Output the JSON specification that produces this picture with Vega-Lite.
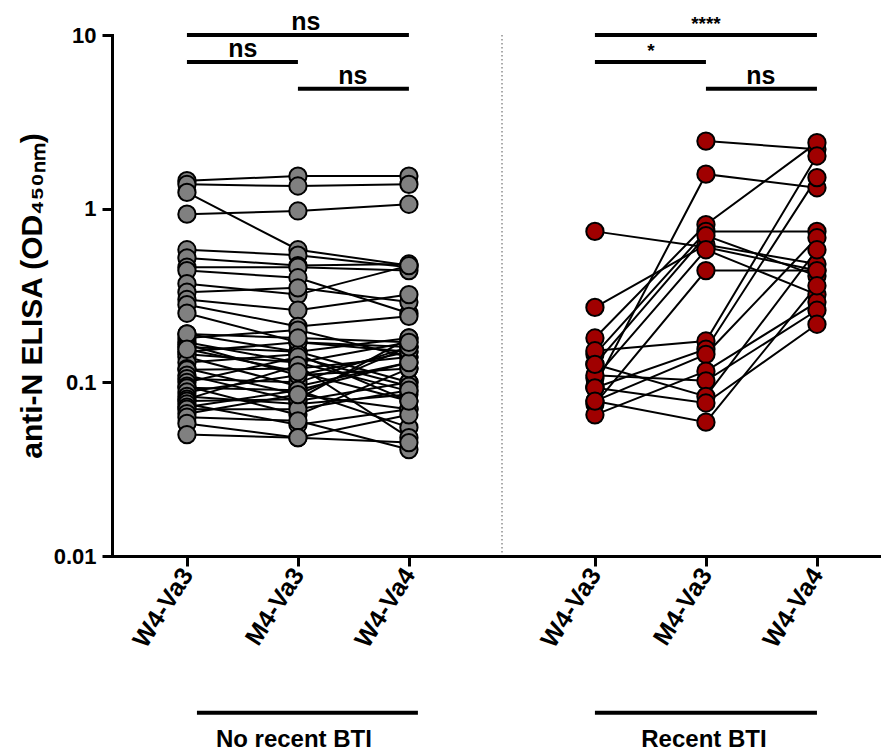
{
  "$schema": "https://vega.github.io/schema/vega-lite/v6.json",
  "autosize": {"type": "pad"},
  "padding": {"left": 17, "top": 10, "right": 0, "bottom": 0},
  "background": "white",
  "bounds": "flush",
  "spacing": 0,
  "config": {
    "view": {"stroke": null},
    "font": "Liberation Sans",
    "axis": {"domainColor": "black", "domainWidth": 3, "domainCap": "square", "tickColor": "black", "tickWidth": 3, "tickSize": 10, "labelColor": "black", "labelFont": "Liberation Sans", "labelFontWeight": "bold", "grid": false, "titleColor": "black", "titleFont": "Liberation Sans", "titleFontWeight": "bold"},
    "axisX": {"labelAngle": -57, "labelAlign": "right", "labelBaseline": "middle", "labelFontSize": 25, "labelPadding": 4},
    "axisY": {"labelFontSize": 22, "labelPadding": 6}
  },
  "datasets": {
    "norecent": [
      {"subject":"N1","time":"W4-Va3","od":1.45},{"subject":"N1","time":"M4-Va3","od":1.54},{"subject":"N1","time":"W4-Va4","od":1.54},
      {"subject":"N2","time":"W4-Va3","od":1.38},{"subject":"N2","time":"M4-Va3","od":1.35},{"subject":"N2","time":"W4-Va4","od":1.38},
      {"subject":"N3","time":"W4-Va3","od":1.24},{"subject":"N3","time":"M4-Va3","od":0.58},{"subject":"N3","time":"W4-Va4","od":0.47},
      {"subject":"N4","time":"W4-Va3","od":0.93},{"subject":"N4","time":"M4-Va3","od":0.97},{"subject":"N4","time":"W4-Va4","od":1.06},
      {"subject":"N5","time":"W4-Va3","od":0.58},{"subject":"N5","time":"M4-Va3","od":0.54},{"subject":"N5","time":"W4-Va4","od":0.46},
      {"subject":"N6","time":"W4-Va3","od":0.52},{"subject":"N6","time":"M4-Va3","od":0.47},{"subject":"N6","time":"W4-Va4","od":0.48},
      {"subject":"N7","time":"W4-Va3","od":0.46},{"subject":"N7","time":"M4-Va3","od":0.46},{"subject":"N7","time":"W4-Va4","od":0.44},
      {"subject":"N8","time":"W4-Va3","od":0.44},{"subject":"N8","time":"M4-Va3","od":0.40},{"subject":"N8","time":"W4-Va4","od":0.25},
      {"subject":"N9","time":"W4-Va3","od":0.37},{"subject":"N9","time":"M4-Va3","od":0.32},{"subject":"N9","time":"W4-Va4","od":0.47},
      {"subject":"N10","time":"W4-Va3","od":0.33},{"subject":"N10","time":"M4-Va3","od":0.35},{"subject":"N10","time":"W4-Va4","od":0.29},
      {"subject":"N11","time":"W4-Va3","od":0.30},{"subject":"N11","time":"M4-Va3","od":0.26},{"subject":"N11","time":"W4-Va4","od":0.32},
      {"subject":"N12","time":"W4-Va3","od":0.28},{"subject":"N12","time":"M4-Va3","od":0.21},{"subject":"N12","time":"W4-Va4","od":0.24},
      {"subject":"N13","time":"W4-Va3","od":0.25},{"subject":"N13","time":"M4-Va3","od":0.17},{"subject":"N13","time":"W4-Va4","od":0.16},
      {"subject":"N14","time":"W4-Va3","od":0.19},{"subject":"N14","time":"M4-Va3","od":0.15},{"subject":"N14","time":"W4-Va4","od":0.18},
      {"subject":"N15","time":"W4-Va3","od":0.18},{"subject":"N15","time":"M4-Va3","od":0.20},{"subject":"N15","time":"W4-Va4","od":0.14},
      {"subject":"N16","time":"W4-Va3","od":0.17},{"subject":"N16","time":"M4-Va3","od":0.13},{"subject":"N16","time":"W4-Va4","od":0.17},
      {"subject":"N17","time":"W4-Va3","od":0.165},{"subject":"N17","time":"M4-Va3","od":0.11},{"subject":"N17","time":"W4-Va4","od":0.12},
      {"subject":"N18","time":"W4-Va3","od":0.16},{"subject":"N18","time":"M4-Va3","od":0.15},{"subject":"N18","time":"W4-Va4","od":0.10},
      {"subject":"N19","time":"W4-Va3","od":0.15},{"subject":"N19","time":"M4-Va3","od":0.17},{"subject":"N19","time":"W4-Va4","od":0.15},
      {"subject":"N20","time":"W4-Va3","od":0.145},{"subject":"N20","time":"M4-Va3","od":0.13},{"subject":"N20","time":"W4-Va4","od":0.089},
      {"subject":"N21","time":"W4-Va3","od":0.14},{"subject":"N21","time":"M4-Va3","od":0.095},{"subject":"N21","time":"W4-Va4","od":0.13},
      {"subject":"N22","time":"W4-Va3","od":0.13},{"subject":"N22","time":"M4-Va3","od":0.145},{"subject":"N22","time":"W4-Va4","od":0.078},
      {"subject":"N23","time":"W4-Va3","od":0.12},{"subject":"N23","time":"M4-Va3","od":0.085},{"subject":"N23","time":"W4-Va4","od":0.07},
      {"subject":"N24","time":"W4-Va3","od":0.118},{"subject":"N24","time":"M4-Va3","od":0.12},{"subject":"N24","time":"W4-Va4","od":0.14},
      {"subject":"N25","time":"W4-Va3","od":0.11},{"subject":"N25","time":"M4-Va3","od":0.078},{"subject":"N25","time":"W4-Va4","od":0.10},
      {"subject":"N26","time":"W4-Va3","od":0.105},{"subject":"N26","time":"M4-Va3","od":0.10},{"subject":"N26","time":"W4-Va4","od":0.16},
      {"subject":"N27","time":"W4-Va3","od":0.10},{"subject":"N27","time":"M4-Va3","od":0.14},{"subject":"N27","time":"W4-Va4","od":0.095},
      {"subject":"N28","time":"W4-Va3","od":0.095},{"subject":"N28","time":"M4-Va3","od":0.065},{"subject":"N28","time":"W4-Va4","od":0.12},
      {"subject":"N29","time":"W4-Va3","od":0.093},{"subject":"N29","time":"M4-Va3","od":0.09},{"subject":"N29","time":"W4-Va4","od":0.055},
      {"subject":"N30","time":"W4-Va3","od":0.088},{"subject":"N30","time":"M4-Va3","od":0.11},{"subject":"N30","time":"W4-Va4","od":0.15},
      {"subject":"N31","time":"W4-Va3","od":0.083},{"subject":"N31","time":"M4-Va3","od":0.075},{"subject":"N31","time":"W4-Va4","od":0.085},
      {"subject":"N32","time":"W4-Va3","od":0.08},{"subject":"N32","time":"M4-Va3","od":0.125},{"subject":"N32","time":"W4-Va4","od":0.048},
      {"subject":"N33","time":"W4-Va3","od":0.078},{"subject":"N33","time":"M4-Va3","od":0.08},{"subject":"N33","time":"W4-Va4","od":0.18},
      {"subject":"N34","time":"W4-Va3","od":0.075},{"subject":"N34","time":"M4-Va3","od":0.057},{"subject":"N34","time":"W4-Va4","od":0.07},
      {"subject":"N35","time":"W4-Va3","od":0.072},{"subject":"N35","time":"M4-Va3","od":0.09},{"subject":"N35","time":"W4-Va4","od":0.13},
      {"subject":"N36","time":"W4-Va3","od":0.07},{"subject":"N36","time":"M4-Va3","od":0.07},{"subject":"N36","time":"W4-Va4","od":0.09},
      {"subject":"N37","time":"W4-Va3","od":0.066},{"subject":"N37","time":"M4-Va3","od":0.085},{"subject":"N37","time":"W4-Va4","od":0.16},
      {"subject":"N38","time":"W4-Va3","od":0.063},{"subject":"N38","time":"M4-Va3","od":0.06},{"subject":"N38","time":"W4-Va4","od":0.041},
      {"subject":"N39","time":"W4-Va3","od":0.058},{"subject":"N39","time":"M4-Va3","od":0.048},{"subject":"N39","time":"W4-Va4","od":0.065},
      {"subject":"N40","time":"W4-Va3","od":0.05},{"subject":"N40","time":"M4-Va3","od":0.048},{"subject":"N40","time":"W4-Va4","od":0.045},
      {"subject":"N41","time":"W4-Va3","od":0.19},{"subject":"N41","time":"M4-Va3","od":0.18},{"subject":"N41","time":"W4-Va4","od":0.17},
      {"subject":"N42","time":"W4-Va3","od":0.155},{"subject":"N42","time":"M4-Va3","od":0.115},{"subject":"N42","time":"W4-Va4","od":0.078}
    ],
    "recent": [
      {"subject":"R1","time":"W4-Va3","od":0.74},{"subject":"R1","time":"M4-Va3","od":0.60},{"subject":"R1","time":"W4-Va4","od":0.44},
      {"subject":"R2","time":"M4-Va3","od":2.45},{"subject":"R2","time":"W4-Va4","od":2.20},
      {"subject":"R3","time":"W4-Va3","od":0.095},{"subject":"R3","time":"M4-Va3","od":1.58},{"subject":"R3","time":"W4-Va4","od":1.32},
      {"subject":"R4","time":"W4-Va3","od":0.27},{"subject":"R4","time":"M4-Va3","od":0.62},{"subject":"R4","time":"W4-Va4","od":0.48},
      {"subject":"R5","time":"W4-Va3","od":0.18},{"subject":"R5","time":"M4-Va3","od":0.81},{"subject":"R5","time":"W4-Va4","od":2.40},
      {"subject":"R6","time":"W4-Va3","od":0.145},{"subject":"R6","time":"M4-Va3","od":0.74},{"subject":"R6","time":"W4-Va4","od":0.74},
      {"subject":"R7","time":"W4-Va3","od":0.127},{"subject":"R7","time":"M4-Va3","od":0.70},{"subject":"R7","time":"W4-Va4","od":0.41},
      {"subject":"R8","time":"W4-Va3","od":0.106},{"subject":"R8","time":"M4-Va3","od":0.58},{"subject":"R8","time":"W4-Va4","od":0.32},
      {"subject":"R9","time":"W4-Va3","od":0.075},{"subject":"R9","time":"M4-Va3","od":0.44},{"subject":"R9","time":"W4-Va4","od":0.44},
      {"subject":"R10","time":"W4-Va3","od":0.152},{"subject":"R10","time":"M4-Va3","od":0.173},{"subject":"R10","time":"W4-Va4","od":2.01},
      {"subject":"R11","time":"W4-Va3","od":0.093},{"subject":"R11","time":"M4-Va3","od":0.155},{"subject":"R11","time":"W4-Va4","od":1.51},
      {"subject":"R12","time":"W4-Va3","od":0.078},{"subject":"R12","time":"M4-Va3","od":0.145},{"subject":"R12","time":"W4-Va4","od":0.68},
      {"subject":"R13","time":"W4-Va3","od":0.065},{"subject":"R13","time":"M4-Va3","od":0.116},{"subject":"R13","time":"W4-Va4","od":0.29},
      {"subject":"R14","time":"W4-Va3","od":0.11},{"subject":"R14","time":"M4-Va3","od":0.102},{"subject":"R14","time":"W4-Va4","od":0.26},
      {"subject":"R15","time":"W4-Va3","od":0.127},{"subject":"R15","time":"M4-Va3","od":0.083},{"subject":"R15","time":"W4-Va4","od":0.58},
      {"subject":"R16","time":"W4-Va3","od":0.093},{"subject":"R16","time":"M4-Va3","od":0.076},{"subject":"R16","time":"W4-Va4","od":0.216},
      {"subject":"R17","time":"W4-Va3","od":0.078},{"subject":"R17","time":"M4-Va3","od":0.059},{"subject":"R17","time":"W4-Va4","od":0.36}
    ]
  },
  "hconcat": [
    {
      "width": 390,
      "height": 521,
      "layer": [
        {
          "data": {"name": "norecent"},
          "mark": {"type": "line", "color": "black", "strokeWidth": 2},
          "encoding": {
            "x": {"field": "time", "type": "nominal", "sort": ["W4-Va3", "M4-Va3", "W4-Va4"], "scale": {"type": "point", "domain": ["W4-Va3", "M4-Va3", "W4-Va4"], "padding": 0.757, "align": 0.446}, "axis": {"title": null}},
            "y": {"field": "od", "type": "quantitative", "scale": {"type": "log", "domain": [0.01, 10]}, "axis": {"values": [0.01, 0.1, 1, 10], "format": "~g", "title": "anti-N ELISA (OD₄₅₀ₙₘ)", "titleFontSize": 30, "titlePadding": 6}},
            "detail": {"field": "subject"}
          }
        },
        {
          "data": {"name": "norecent"},
          "mark": {"type": "point", "shape": "circle", "filled": true, "fill": "#808080", "stroke": "black", "strokeWidth": 2, "size": 300, "opacity": 1},
          "encoding": {
            "x": {"field": "time", "type": "nominal", "scale": {"type": "point", "domain": ["W4-Va3", "M4-Va3", "W4-Va4"], "padding": 0.757, "align": 0.446}},
            "y": {"field": "od", "type": "quantitative", "scale": {"type": "log", "domain": [0.01, 10]}}
          }
        },
        {
          "data": {"values": [{}]},
          "mark": {"type": "rule", "strokeDash": [1.5, 2.5], "color": "#555555", "strokeWidth": 1},
          "encoding": {
            "x": {"value": "width"},
            "y": {"datum": 10, "type": "quantitative", "scale": {"type": "log", "domain": [0.01, 10]}},
            "y2": {"datum": 0.01}
          }
        },
        {
          "data": {"values": [{}]},
          "mark": {"type": "rule", "color": "black", "strokeWidth": 4},
          "encoding": {
            "x": {"datum": "W4-Va3", "type": "nominal", "scale": {"type": "point", "domain": ["W4-Va3", "M4-Va3", "W4-Va4"], "padding": 0.757, "align": 0.446}},
            "x2": {"datum": "W4-Va4"},
            "y": {"datum": 10, "type": "quantitative", "scale": {"type": "log", "domain": [0.01, 10]}}
          }
        },
        {
          "data": {"values": [{}]},
          "mark": {"type": "rule", "color": "black", "strokeWidth": 4},
          "encoding": {
            "x": {"datum": "W4-Va3", "type": "nominal", "scale": {"type": "point", "domain": ["W4-Va3", "M4-Va3", "W4-Va4"], "padding": 0.757, "align": 0.446}},
            "x2": {"datum": "M4-Va3"},
            "y": {"datum": 7, "type": "quantitative", "scale": {"type": "log", "domain": [0.01, 10]}}
          }
        },
        {
          "data": {"values": [{}]},
          "mark": {"type": "rule", "color": "black", "strokeWidth": 4},
          "encoding": {
            "x": {"datum": "M4-Va3", "type": "nominal", "scale": {"type": "point", "domain": ["W4-Va3", "M4-Va3", "W4-Va4"], "padding": 0.757, "align": 0.446}},
            "x2": {"datum": "W4-Va4"},
            "y": {"datum": 4.9, "type": "quantitative", "scale": {"type": "log", "domain": [0.01, 10]}}
          }
        },
        {
          "data": {"values": [{}]},
          "mark": {"type": "text", "text": "ns", "fontSize": 25, "fontWeight": "bold", "align": "center", "baseline": "alphabetic", "dx": 8, "dy": -5, "color": "black"},
          "encoding": {
            "x": {"datum": "M4-Va3", "type": "nominal", "scale": {"type": "point", "domain": ["W4-Va3", "M4-Va3", "W4-Va4"], "padding": 0.757, "align": 0.446}},
            "y": {"datum": 10, "type": "quantitative", "scale": {"type": "log", "domain": [0.01, 10]}}
          }
        },
        {
          "data": {"values": [{}]},
          "mark": {"type": "text", "text": "ns", "fontSize": 25, "fontWeight": "bold", "align": "center", "baseline": "alphabetic", "dx": 56, "dy": -5, "color": "black"},
          "encoding": {
            "x": {"datum": "W4-Va3", "type": "nominal", "scale": {"type": "point", "domain": ["W4-Va3", "M4-Va3", "W4-Va4"], "padding": 0.757, "align": 0.446}},
            "y": {"datum": 7, "type": "quantitative", "scale": {"type": "log", "domain": [0.01, 10]}}
          }
        },
        {
          "data": {"values": [{}]},
          "mark": {"type": "text", "text": "ns", "fontSize": 25, "fontWeight": "bold", "align": "center", "baseline": "alphabetic", "dx": 55, "dy": -5, "color": "black"},
          "encoding": {
            "x": {"datum": "M4-Va3", "type": "nominal", "scale": {"type": "point", "domain": ["W4-Va3", "M4-Va3", "W4-Va4"], "padding": 0.757, "align": 0.446}},
            "y": {"datum": 4.9, "type": "quantitative", "scale": {"type": "log", "domain": [0.01, 10]}}
          }
        },
        {
          "data": {"values": [{}]},
          "mark": {"type": "rule", "color": "black", "strokeWidth": 4, "xOffset": 10, "x2Offset": 9},
          "encoding": {
            "x": {"datum": "W4-Va3", "type": "nominal", "scale": {"type": "point", "domain": ["W4-Va3", "M4-Va3", "W4-Va4"], "padding": 0.757, "align": 0.446}},
            "x2": {"datum": "W4-Va4"},
            "y": {"datum": 0.00125, "type": "quantitative", "scale": {"type": "log", "domain": [0.01, 10]}}
          }
        },
        {
          "data": {"values": [{}]},
          "mark": {"type": "text", "text": "No recent BTI", "fontSize": 24, "fontWeight": "bold", "align": "center", "baseline": "alphabetic", "dx": -4, "color": "black"},
          "encoding": {
            "x": {"datum": "M4-Va3", "type": "nominal", "scale": {"type": "point", "domain": ["W4-Va3", "M4-Va3", "W4-Va4"], "padding": 0.757, "align": 0.446}},
            "y": {"datum": 0.00079, "type": "quantitative", "scale": {"type": "log", "domain": [0.01, 10]}}
          }
        }
      ]
    },
    {
      "width": 379,
      "height": 521,
      "layer": [
        {
          "data": {"name": "recent"},
          "mark": {"type": "line", "color": "black", "strokeWidth": 2},
          "encoding": {
            "x": {"field": "time", "type": "nominal", "sort": ["W4-Va3", "M4-Va3", "W4-Va4"], "scale": {"type": "point", "domain": ["W4-Va3", "M4-Va3", "W4-Va4"], "padding": 0.707, "align": 0.592}, "axis": {"title": null}},
            "y": {"field": "od", "type": "quantitative", "scale": {"type": "log", "domain": [0.01, 10]}, "axis": null},
            "detail": {"field": "subject"}
          }
        },
        {
          "data": {"name": "recent"},
          "mark": {"type": "point", "shape": "circle", "filled": true, "fill": "#a00000", "stroke": "black", "strokeWidth": 2, "size": 300, "opacity": 1},
          "encoding": {
            "x": {"field": "time", "type": "nominal", "scale": {"type": "point", "domain": ["W4-Va3", "M4-Va3", "W4-Va4"], "padding": 0.707, "align": 0.592}},
            "y": {"field": "od", "type": "quantitative", "scale": {"type": "log", "domain": [0.01, 10]}, "axis": null}
          }
        },
        {
          "data": {"values": [{}]},
          "mark": {"type": "rule", "color": "black", "strokeWidth": 4},
          "encoding": {
            "x": {"datum": "W4-Va3", "type": "nominal", "scale": {"type": "point", "domain": ["W4-Va3", "M4-Va3", "W4-Va4"], "padding": 0.707, "align": 0.592}},
            "x2": {"datum": "W4-Va4"},
            "y": {"datum": 10, "type": "quantitative", "scale": {"type": "log", "domain": [0.01, 10]}, "axis": null}
          }
        },
        {
          "data": {"values": [{}]},
          "mark": {"type": "rule", "color": "black", "strokeWidth": 4},
          "encoding": {
            "x": {"datum": "W4-Va3", "type": "nominal", "scale": {"type": "point", "domain": ["W4-Va3", "M4-Va3", "W4-Va4"], "padding": 0.707, "align": 0.592}},
            "x2": {"datum": "M4-Va3"},
            "y": {"datum": 7, "type": "quantitative", "scale": {"type": "log", "domain": [0.01, 10]}, "axis": null}
          }
        },
        {
          "data": {"values": [{}]},
          "mark": {"type": "rule", "color": "black", "strokeWidth": 4},
          "encoding": {
            "x": {"datum": "M4-Va3", "type": "nominal", "scale": {"type": "point", "domain": ["W4-Va3", "M4-Va3", "W4-Va4"], "padding": 0.707, "align": 0.592}},
            "x2": {"datum": "W4-Va4"},
            "y": {"datum": 4.9, "type": "quantitative", "scale": {"type": "log", "domain": [0.01, 10]}, "axis": null}
          }
        },
        {
          "data": {"values": [{}]},
          "mark": {"type": "text", "text": "****", "fontSize": 19, "fontWeight": "bold", "align": "center", "baseline": "alphabetic", "dx": 0, "dy": -5, "color": "black"},
          "encoding": {
            "x": {"datum": "M4-Va3", "type": "nominal", "scale": {"type": "point", "domain": ["W4-Va3", "M4-Va3", "W4-Va4"], "padding": 0.707, "align": 0.592}},
            "y": {"datum": 10, "type": "quantitative", "scale": {"type": "log", "domain": [0.01, 10]}, "axis": null}
          }
        },
        {
          "data": {"values": [{}]},
          "mark": {"type": "text", "text": "*", "fontSize": 19, "fontWeight": "bold", "align": "center", "baseline": "alphabetic", "dx": 56, "dy": -5, "color": "black"},
          "encoding": {
            "x": {"datum": "W4-Va3", "type": "nominal", "scale": {"type": "point", "domain": ["W4-Va3", "M4-Va3", "W4-Va4"], "padding": 0.707, "align": 0.592}},
            "y": {"datum": 7, "type": "quantitative", "scale": {"type": "log", "domain": [0.01, 10]}, "axis": null}
          }
        },
        {
          "data": {"values": [{}]},
          "mark": {"type": "text", "text": "ns", "fontSize": 25, "fontWeight": "bold", "align": "center", "baseline": "alphabetic", "dx": 55, "dy": -5, "color": "black"},
          "encoding": {
            "x": {"datum": "M4-Va3", "type": "nominal", "scale": {"type": "point", "domain": ["W4-Va3", "M4-Va3", "W4-Va4"], "padding": 0.707, "align": 0.592}},
            "y": {"datum": 4.9, "type": "quantitative", "scale": {"type": "log", "domain": [0.01, 10]}, "axis": null}
          }
        },
        {
          "data": {"values": [{}]},
          "mark": {"type": "rule", "color": "black", "strokeWidth": 4},
          "encoding": {
            "x": {"datum": "W4-Va3", "type": "nominal", "scale": {"type": "point", "domain": ["W4-Va3", "M4-Va3", "W4-Va4"], "padding": 0.707, "align": 0.592}},
            "x2": {"datum": "W4-Va4"},
            "y": {"datum": 0.00125, "type": "quantitative", "scale": {"type": "log", "domain": [0.01, 10]}, "axis": null}
          }
        },
        {
          "data": {"values": [{}]},
          "mark": {"type": "text", "text": "Recent BTI", "fontSize": 24, "fontWeight": "bold", "align": "center", "baseline": "alphabetic", "dx": -2, "color": "black"},
          "encoding": {
            "x": {"datum": "M4-Va3", "type": "nominal", "scale": {"type": "point", "domain": ["W4-Va3", "M4-Va3", "W4-Va4"], "padding": 0.707, "align": 0.592}},
            "y": {"datum": 0.00079, "type": "quantitative", "scale": {"type": "log", "domain": [0.01, 10]}, "axis": null}
          }
        }
      ]
    }
  ]
}
